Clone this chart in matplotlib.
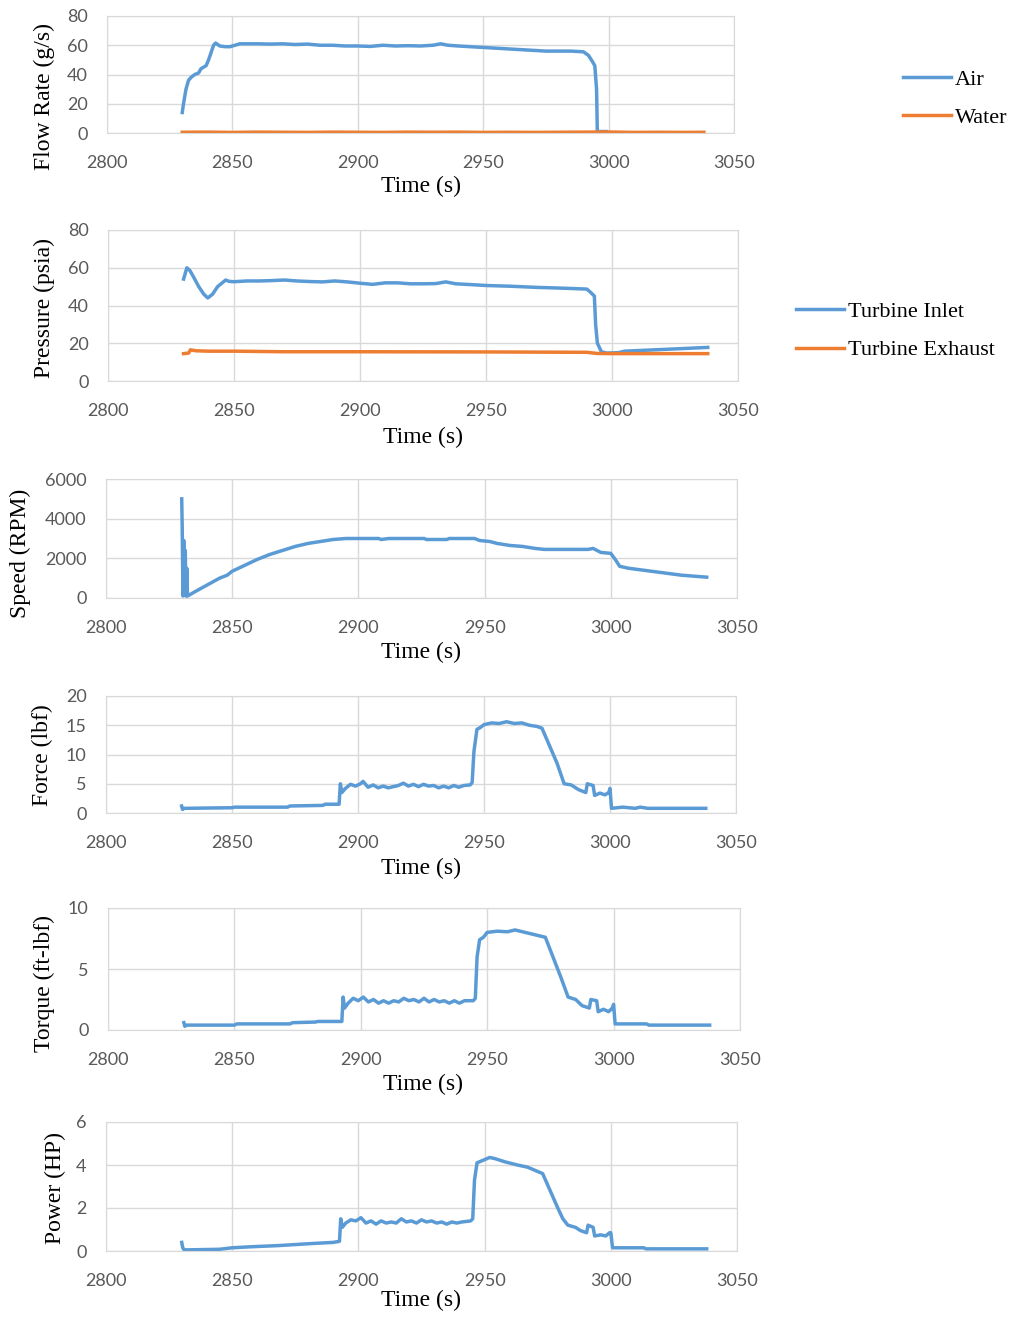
import matplotlib
matplotlib.use('Agg')
import matplotlib.pyplot as plt
import numpy as np

# colours (Excel style)
BLUE = '#5B9BD5'
ORANGE = '#ED7D31'
GRID = '#D9D9D9'

# ---- data: (time s, value) ----
air_flow = [(2830, 14), (2830.5, 20), (2831.5, 30), (2832.5, 36), (2833.5, 38), (2835, 40),
            (2836.5, 41), (2837.5, 44), (2838.5, 45), (2839.5, 46), (2840.5, 50), (2841.5, 55),
            (2842.5, 60), (2843.3, 61.5), (2845, 59.5), (2847, 59), (2849, 59), (2851, 60),
            (2853, 61), (2856, 61), (2860, 61), (2865, 60.8), (2870, 61), (2875, 60.5),
            (2880, 60.8), (2885, 60), (2890, 60), (2895, 59.5), (2900, 59.5), (2905, 59.2),
            (2910, 60), (2915, 59.5), (2920, 59.7), (2925, 59.5), (2930, 60), (2933, 61),
            (2936, 60), (2940, 59.5), (2945, 59), (2950, 58.5), (2955, 58), (2960, 57.5),
            (2965, 57), (2970, 56.5), (2975, 56), (2980, 56), (2985, 56), (2990, 55.5),
            (2992, 53), (2993.5, 49), (2994.5, 46), (2995.2, 30), (2995.5, 1), (2999, 1)]
water_flow = [(2830, 0.5), (2840, 0.6), (2850, 0.4), (2860, 0.6), (2870, 0.5), (2880, 0.4),
              (2890, 0.6), (2900, 0.5), (2910, 0.4), (2920, 0.6), (2930, 0.5), (2940, 0.6),
              (2950, 0.4), (2960, 0.5), (2970, 0.4), (2980, 0.5), (2990, 0.6), (3000, 0.7),
              (3010, 0.4), (3020, 0.5), (3030, 0.4), (3038, 0.5)]

p_inlet = [(2830, 54), (2831.3, 60), (2832.5, 58.5), (2834, 55), (2836, 50), (2838, 46),
           (2839.6, 44), (2841.5, 46), (2843.5, 50), (2846.7, 53.5), (2848, 52.8), (2850, 52.6),
           (2855, 53), (2860, 53), (2865, 53.2), (2870, 53.5), (2875, 53), (2880, 52.7),
           (2885, 52.5), (2890, 53), (2895, 52.5), (2900, 51.8), (2905, 51.2), (2910, 52),
           (2915, 52), (2920, 51.5), (2925, 51.5), (2930, 51.6), (2934, 52.5), (2938, 51.5),
           (2945, 51), (2950, 50.6), (2960, 50.2), (2970, 49.6), (2980, 49.2), (2990, 48.7),
           (2991.5, 47), (2993, 45), (2993.5, 30), (2994.2, 20), (2995.8, 15.5), (2998, 14.8),
           (3002.5, 15), (3005, 15.8), (3015, 16.4), (3025, 17), (3038, 17.8)]
p_exhaust = [(2830, 14.5), (2832, 14.8), (2832.7, 16.5), (2835, 16), (2840, 15.8), (2850, 15.8),
             (2870, 15.5), (2900, 15.5), (2950, 15.4), (2990, 15.2), (2994, 14.6), (3000, 14.5),
             (3038, 14.5)]

speed = [(2830, 5000), (2830.2, 3500), (2830.5, 100), (2830.8, 2900), (2831.1, 200),
         (2831.4, 2400), (2831.7, 100), (2832, 1500), (2832.3, 100), (2835, 300), (2840, 650),
         (2845, 1000), (2848, 1150), (2850, 1350), (2855, 1650), (2860, 1950), (2865, 2200),
         (2870, 2400), (2875, 2600), (2880, 2750), (2885, 2850), (2890, 2950), (2895, 3000),
         (2908, 3000), (2909, 2950), (2912, 3000), (2926, 3000), (2927, 2950), (2935, 2950),
         (2936, 3000), (2946, 3000), (2948, 2900), (2952, 2850), (2955, 2750), (2960, 2650),
         (2965, 2600), (2970, 2500), (2973.7, 2450), (2991, 2450), (2993, 2500), (2996, 2300),
         (3000, 2250), (3002, 1900), (3003.5, 1600), (3007, 1500), (3019, 1300), (3028, 1150),
         (3038, 1050)]

force = [(2830, 1.2), (2830.4, 0.6), (2831, 0.8), (2850, 0.9), (2851, 1.0), (2872, 1.0),
         (2873, 1.2), (2886, 1.3), (2887, 1.5), (2892.5, 1.5), (2893, 5.0), (2893.6, 3.5),
         (2895, 4.2), (2897, 4.9), (2899, 4.6), (2901, 5.0), (2902, 5.4), (2904, 4.4),
         (2906, 4.8), (2908, 4.3), (2910, 4.6), (2912, 4.3), (2914, 4.5), (2916, 4.7),
         (2918, 5.1), (2920, 4.6), (2922, 4.9), (2924, 4.5), (2926, 4.9), (2928, 4.6),
         (2930, 4.7), (2932, 4.3), (2934, 4.6), (2936, 4.3), (2938, 4.7), (2940, 4.4),
         (2942, 4.7), (2944.5, 4.8), (2945.3, 5.2), (2946, 10.5), (2947.2, 14.3),
         (2948.5, 14.6), (2950, 15.1), (2953, 15.4), (2956, 15.3), (2959, 15.6), (2962, 15.3),
         (2965, 15.4), (2968, 15.0), (2971, 14.8), (2973, 14.5), (2976, 11.5), (2979, 8.5),
         (2981.8, 5.0), (2984.6, 4.8), (2987.5, 4.0), (2990.4, 3.5), (2991, 5.0), (2993.3, 4.7),
         (2993.9, 3.0), (2996, 3.4), (2998, 3.1), (2999.5, 3.5), (3000, 4.2), (3000.6, 0.8),
         (3005, 1.0), (3010, 0.8), (3012, 1.0), (3015, 0.8), (3038, 0.8)]

torque = [(2830, 0.6), (2830.4, 0.3), (2831, 0.4), (2850, 0.4), (2851, 0.5), (2872, 0.5),
          (2873, 0.6), (2882, 0.65), (2883, 0.7), (2892.5, 0.7), (2893, 2.7), (2893.6, 1.8),
          (2895, 2.2), (2897, 2.6), (2899, 2.4), (2901, 2.7), (2903, 2.3), (2905, 2.5),
          (2907, 2.2), (2909, 2.4), (2911, 2.2), (2913, 2.4), (2915, 2.3), (2917, 2.6),
          (2919, 2.4), (2921, 2.5), (2923, 2.3), (2925, 2.6), (2927, 2.3), (2929, 2.5),
          (2931, 2.3), (2933, 2.4), (2935, 2.2), (2937, 2.4), (2939, 2.2), (2941, 2.4),
          (2944.5, 2.4), (2945.3, 2.6), (2946, 6.0), (2947, 7.4), (2948.5, 7.6), (2950, 8.0),
          (2954, 8.1), (2958, 8.05), (2961, 8.2), (2965, 8.0), (2969, 7.8), (2973, 7.6),
          (2976, 6.0), (2979, 4.4), (2982, 2.7), (2985, 2.5), (2987.5, 2.0), (2990.4, 1.8),
          (2991, 2.5), (2993.3, 2.4), (2993.9, 1.5), (2996, 1.7), (2998, 1.5), (2999.5, 1.8),
          (3000, 2.1), (3000.6, 0.5), (3013, 0.5), (3014, 0.4), (3038, 0.4)]

power = [(2830, 0.4), (2830.4, 0.15), (2831, 0.05), (2845, 0.08), (2850, 0.15), (2858, 0.2),
         (2868, 0.25), (2875, 0.3), (2882, 0.35), (2890, 0.4), (2892.5, 0.45), (2893, 1.5),
         (2893.6, 1.1), (2895, 1.3), (2897, 1.45), (2899, 1.4), (2901, 1.55), (2903, 1.3),
         (2905, 1.4), (2907, 1.25), (2909, 1.4), (2911, 1.3), (2913, 1.35), (2915, 1.3),
         (2917, 1.5), (2919, 1.35), (2921, 1.4), (2923, 1.3), (2925, 1.45), (2927, 1.35),
         (2929, 1.4), (2931, 1.3), (2933, 1.35), (2935, 1.25), (2937, 1.35), (2939, 1.3),
         (2941, 1.35), (2944.5, 1.4), (2945.3, 1.5), (2946, 3.3), (2947, 4.1), (2949, 4.2),
         (2952, 4.35), (2954, 4.3), (2958, 4.15), (2963, 4.0), (2967, 3.9), (2970, 3.75),
         (2973, 3.6), (2976, 2.8), (2979, 2.0), (2981, 1.5), (2983, 1.2), (2986, 1.1),
         (2988, 0.95), (2990.4, 0.85), (2991, 1.2), (2993, 1.1), (2993.6, 0.7), (2996, 0.75),
         (2998, 0.7), (2999.5, 0.85), (3000, 0.85), (3000.7, 0.15), (3013, 0.15), (3014, 0.1),
         (3038, 0.1)]

x_ticks = [2800, 2850, 2900, 2950, 3000, 3050]

plt.rcParams['font.family'] = ['Lato', 'DejaVu Sans']
SERIF = 'Liberation Serif'

W, H = 1015, 1317
fig = plt.figure(figsize=(W / 100, H / 100), dpi=100)


def px_axes(l, t, r, b):
    return fig.add_axes([l / W, 1 - b / H, (r - l) / W, (b - t) / H])


def style(ax, ymax, ystep, ylabel, ylab_x, ylab_y, xlab_x, xlab_y):
    ax.set_xlim(2800, 3050)
    ax.set_ylim(0, ymax)
    ax.set_xticks(x_ticks)
    ax.set_yticks(np.arange(0, ymax + ystep / 2, ystep))
    ax.grid(True, color=GRID, linewidth=1)
    ax.set_axisbelow(True)
    for s in ax.spines.values():
        s.set_color(GRID)
    ax.tick_params(axis='x', length=0, pad=15.5, labelsize=13, labelcolor='#595959')
    ax.tick_params(axis='y', length=0, pad=14, labelsize=13, labelcolor='#595959')
    ax.set_xlabel('Time (s)', family=SERIF, fontsize=17, va='center')
    ax.xaxis.set_label_coords(xlab_x / W, 1 - xlab_y / H, transform=fig.transFigure)
    ax.set_ylabel(ylabel, family=SERIF, fontsize=17, va='center')
    ax.yaxis.set_label_coords(ylab_x / W, 1 - ylab_y / H, transform=fig.transFigure)


def xy(data):
    arr = np.array(data, dtype=float)
    return arr[:, 0], arr[:, 1]


leg_kw = dict(loc='center left', bbox_transform=fig.transFigure, frameon=False,
              prop={'family': SERIF, 'size': 16}, handlelength=2.15, handletextpad=0.2,
              labelspacing=0.8, borderpad=0, borderaxespad=0)

# panel 1 - flow rate
ax1 = px_axes(107, 16, 734, 133)
ax1.plot(*xy(air_flow), color=BLUE, lw=2.5, label='Air')
ax1.plot(*xy(water_flow), color=ORANGE, lw=2.5, label='Water')
style(ax1, 80, 20, 'Flow Rate (g/s)', 44, 96, 421, 186)
ax1.legend(bbox_to_anchor=(903 / W, 1 - 98.5 / H), **leg_kw)

# panel 2 - pressure
ax2 = px_axes(108, 230, 738, 381)
ax2.plot(*xy(p_inlet), color=BLUE, lw=2.5, label='Turbine Inlet')
ax2.plot(*xy(p_exhaust), color=ORANGE, lw=2.5, label='Turbine Exhaust')
style(ax2, 80, 20, 'Pressure (psia)', 44, 308, 423, 437)
ax2.legend(bbox_to_anchor=(796 / W, 1 - 331 / H), **leg_kw)

# panel 3 - speed
ax3 = px_axes(106, 479, 737, 598)
ax3.plot(*xy(speed), color=BLUE, lw=2.5)
style(ax3, 6000, 2000, 'Speed (RPM)', 20, 553, 421, 652)

# panel 4 - force
ax4 = px_axes(106, 696, 736, 813)
ax4.plot(*xy(force), color=BLUE, lw=2.5)
style(ax4, 20, 5, 'Force (lbf)', 42, 755, 421, 868)

# panel 5 - torque
ax5 = px_axes(108, 908, 740, 1030)
ax5.plot(*xy(torque), color=BLUE, lw=2.5)
style(ax5, 10, 5, 'Torque (ft-lbf)', 44, 984, 423, 1084)

# panel 6 - power
ax6 = px_axes(106, 1122, 737, 1251)
ax6.plot(*xy(power), color=BLUE, lw=2.5)
style(ax6, 6, 2, 'Power (HP)', 55, 1188, 421, 1300)

fig.savefig('out.png', dpi=100)
